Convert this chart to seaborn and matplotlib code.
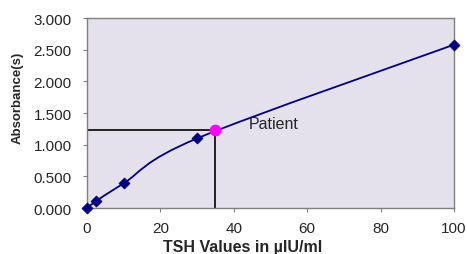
import matplotlib
matplotlib.use("Agg")
import matplotlib.pyplot as plt
import numpy as np
import pandas as pd
import seaborn as sns
from matplotlib.path import Path
from matplotlib.patches import PathPatch

# standard curve
tsh = [0, 2.5, 10, 30, 100]
absorbance = [0.0, 0.11, 0.39, 1.10, 2.58]
patient_tsh = 35
patient_abs = 1.23

df = pd.DataFrame({"tsh": tsh, "abs": absorbance})

sns.set_style("white")
plt.rcParams['font.family'] = ['Liberation Sans', 'DejaVu Sans']

fig = plt.figure(figsize=(4.67, 2.55), dpi=100)
ax = fig.add_axes([0.186, 0.180, 0.786, 0.745])
ax.set_facecolor("#E4E0EC")

# smoothed line like excel (catmull-rom -> bezier)
x = np.array(tsh, dtype=float)
y = np.array(absorbance, dtype=float)
verts = [(x[0], y[0])]
codes = [Path.MOVETO]
for i in range(len(x) - 1):
    p0 = (x[max(i - 1, 0)], y[max(i - 1, 0)])
    p1 = (x[i], y[i])
    p2 = (x[i + 1], y[i + 1])
    p3 = (x[min(i + 2, len(x) - 1)], y[min(i + 2, len(x) - 1)])
    c1 = (p1[0] + (p2[0] - p0[0]) / 6, p1[1] + (p2[1] - p0[1]) / 6)
    c2 = (p2[0] - (p3[0] - p1[0]) / 6, p2[1] - (p3[1] - p1[1]) / 6)
    verts += [c1, c2, p2]
    codes += [Path.CURVE4] * 3
ax.add_patch(PathPatch(Path(verts, codes), facecolor="none", edgecolor="#000080", lw=1.3, zorder=2))

sns.scatterplot(data=df, x="tsh", y="abs", marker="D", s=32, color="#000080",
                edgecolor="#000080", ax=ax, zorder=3, clip_on=False)

# patient lines
ax.plot([0, patient_tsh], [patient_abs, patient_abs], color="black", lw=1.2, zorder=1)
ax.plot([patient_tsh, patient_tsh], [0, patient_abs], color="black", lw=1.2, zorder=1)
ax.scatter([patient_tsh], [patient_abs], s=55, color="#FF00FF", zorder=4)
ax.text(44, 1.34, "Patient", fontsize=11.5, va="center", ha="left")

ax.set_xlim(0, 100)
ax.set_ylim(0, 3)
ax.set_xticks([0, 20, 40, 60, 80, 100])
ax.set_yticks(np.arange(0, 3.01, 0.5))
ax.set_yticklabels([f"{v:.3f}" for v in np.arange(0, 3.01, 0.5)])
ax.tick_params(axis="both", labelsize=11, length=3, direction="out", color="#808080",
               bottom=True, left=True)
ax.tick_params(axis="x", pad=6)
ax.tick_params(axis="y", pad=8)
for sp in ax.spines.values():
    sp.set_color("#808080")
    sp.set_linewidth(1)

ax.set_xlabel("TSH Values in µIU/ml", fontsize=11.5, fontweight="bold")
ax.set_ylabel("Absorbance(s)", fontsize=9.5, fontweight="bold")
ax.xaxis.set_label_coords(0.425, -0.165, transform=ax.transAxes)
ax.yaxis.set_label_coords(-0.188, 0.584, transform=ax.transAxes)
ax.xaxis.label.set_va("top")
ax.yaxis.label.set_va("center")

fig.savefig("out.png", dpi=100)
